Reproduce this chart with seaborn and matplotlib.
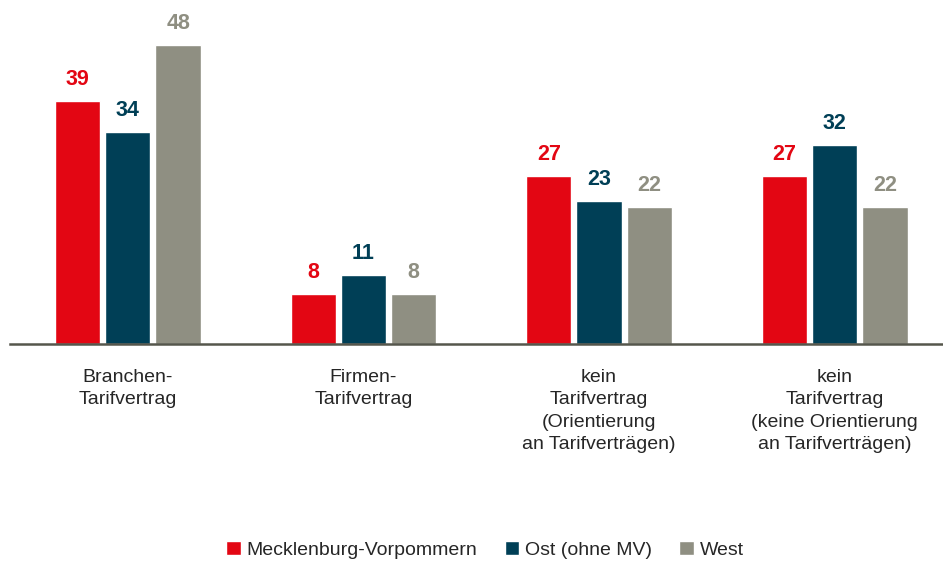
import pandas as pd
import numpy as np
import matplotlib.pyplot as plt
import seaborn as sns

categories = ['Branchen-\nTarifvertrag',
              'Firmen-\nTarifvertrag',
              'kein\nTarifvertrag\n(Orientierung\nan Tarifverträgen)',
              'kein\nTarifvertrag\n(keine Orientierung\nan Tarifverträgen)']
series = ['Mecklenburg-Vorpommern', 'Ost (ohne MV)', 'West']
mv = [39, 8, 27, 27]
ost = [34, 11, 23, 32]
west = [48, 8, 22, 22]
colors = ['#E30613', '#003F56', '#8F8F82']

rows = []
for name, vals in zip(series, [mv, ost, west]):
    for c, v in zip(categories, vals):
        rows.append({'Kategorie': c, 'Gruppe': name, 'Wert': v})
df = pd.DataFrame(rows)

sns.set_style('white')
plt.rcParams['font.family'] = ['Liberation Sans Narrow', 'Liberation Sans', 'DejaVu Sans']

fig = plt.figure(figsize=(9.43, 5.62), dpi=100)
ax = fig.add_axes([10 / 943, 1 - 344 / 562, 933 / 943, 324 / 562])

sns.barplot(data=df, x='Kategorie', y='Wert', hue='Gruppe', palette=colors,
            width=0.64, gap=0.1, saturation=1, ax=ax, legend=True)

# value labels
for cont, col in zip(ax.containers, colors):
    ax.bar_label(cont, fmt='%d', padding=8, color=col, fontsize=15.5,
                 fontweight='bold')

ax.set_ylim(0, 52)
ax.set_xlim(-0.5, 3.46)
ax.set_xlabel('')
ax.set_ylabel('')
ax.set_yticks([])
for s in ['top', 'right', 'left']:
    ax.spines[s].set_visible(False)
ax.spines['bottom'].set_color('#55564C')
ax.spines['bottom'].set_linewidth(1.8)
ax.tick_params(axis='x', length=0, pad=18, labelsize=14)
plt.setp(ax.get_xticklabels(), linespacing=1.42)

handles, labels = ax.get_legend_handles_labels()
ax.get_legend().remove()
fig.legend(handles, labels, loc='center', bbox_to_anchor=(485 / 943, 1 - 550 / 562),
           ncol=3, frameon=False, fontsize=14, handlelength=0.75,
           handleheight=0.75, handletextpad=0.3, columnspacing=1.4)

fig.savefig('out.png', dpi=100)
